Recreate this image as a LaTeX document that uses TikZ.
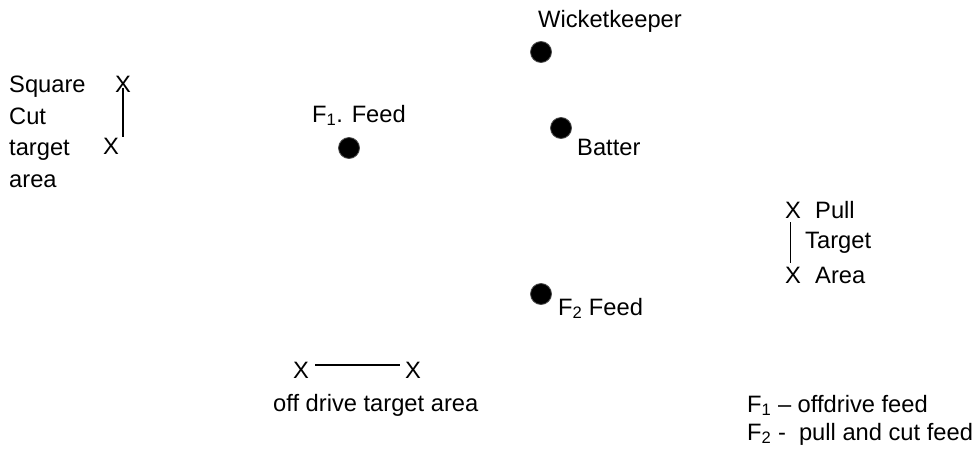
\documentclass[tikz,border=0pt]{standalone}
\usepackage{fontspec}
\setmainfont{Liberation Sans}
\begin{document}
\begin{tikzpicture}[x=1pt,y=-1pt,
  lbl/.style={anchor=base west,inner sep=0pt,font=\fontsize{23.7}{28}\selectfont},
  dot/.style={circle,fill=black,draw=black!70,line width=0.8pt,minimum size=21pt,inner sep=0pt},
  conn/.style={line width=1.4pt}]
\path[use as bounding box,fill=white] (0,0) rectangle (976,450);
% Wicketkeeper and batter
\node[lbl] (wkt) at (538,27) {Wicketkeeper};
\node[dot] (wk) at (541,52) {};
\node[dot] (bat) at (561,128) {};
\node[lbl] (batt) at (577,155) {Batter};
% F1 feed
\node[lbl] (f1t) at (312,122) {F\textsubscript{1}. Feed};
\node[dot] (f1) at (349,148) {};
% F2 feed
\node[dot] (f2) at (541,294) {};
\node[lbl] (f2t) at (558,315) {F\textsubscript{2} Feed};
% Square cut target area
\node[lbl] (sq1) at (9,92) {Square};
\node[lbl] (sq2) at (9,124) {Cut};
\node[lbl] (sq3) at (9,155) {target};
\node[lbl] (sq4) at (9,187) {area};
\node[lbl] (xs1) at (115,92) {X};
\node[lbl] (xs2) at (103,154) {X};
\draw[conn] ([yshift=4pt]xs1.south) -- (xs1.south |- xs2.north);
% Pull target area
\node[lbl] (xp1) at (785,218) {X};
\node[lbl] (pl1) at (815,218) {Pull};
\node[lbl] (pl2) at (805,248) {Target};
\node[lbl] (xp2) at (785,283) {X};
\node[lbl] (pl3) at (815,283) {Area};
\draw[conn] ([xshift=-2.5pt,yshift=-4pt]xp1.south) -- ([xshift=-2.5pt,yshift=3.5pt]xp2.north);
% Off drive target area
\node[lbl] (xo1) at (293,378) {X};
\node[lbl] (xo2) at (405,378) {X};
\draw[conn] ([xshift=6pt,yshift=5pt]xo1.east) -- ([xshift=-5pt,yshift=5pt]xo2.west);
\node[lbl] (od) at (273,411) {off drive target area};
% Legend
\node[lbl] (lg1) at (747,412) {F\textsubscript{1} – offdrive feed};
\node[lbl] (lg2) at (747,440) {F\textsubscript{2} -\ \ pull and cut feed};
\end{tikzpicture}
\end{document}
